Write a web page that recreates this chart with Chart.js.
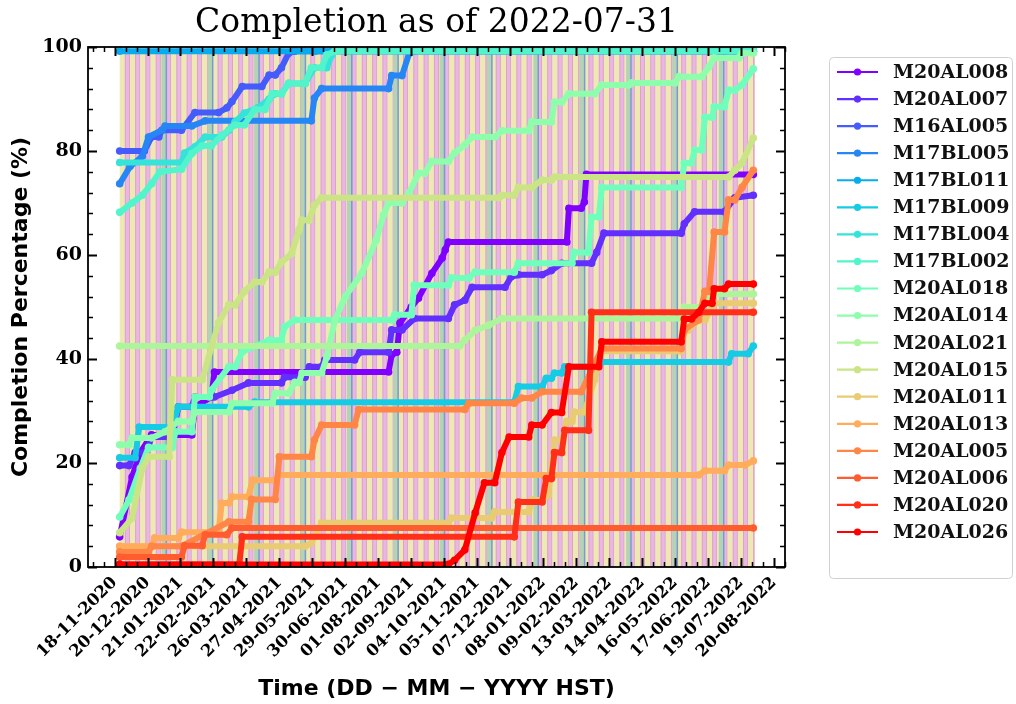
<!DOCTYPE html>
<html>
<head>
<meta charset="utf-8">
<script src="https://cdn.jsdelivr.net/npm/chart.js@4.4.0/dist/chart.umd.min.js"></script>
<style>
  html, body { margin: 0; padding: 0; background: #fff; }
  #wrap { width: 1016px; height: 704px; }
</style>
</head>
<body>
<div id="wrap"><canvas id="chart" width="1016" height="704"></canvas></div>
<script>
// programs, in legend order
const programs = ['M20AL008','M20AL007','M16AL005','M17BL005','M17BL011','M17BL009','M17BL004','M17BL002',
  'M20AL018','M20AL014','M20AL021','M20AL015','M20AL011','M20AL013','M20AL005','M20AL006','M20AL020','M20AL026'];

// matplotlib "rainbow" sampled at 18 steps
const colors = ['#8000ff','#612ffe','#435cfb','#2686f5','#07acee','#16cbe4','#35e4d9','#52f5cb',
  '#70febc','#8efeac','#acf59a','#cae486','#e8cb72','#ffac5c','#ff8646','#ff5c2f','#ff2f18','#ff0000'];

// x tick positions (DD-MM-YYYY labels)
const tickDates = ['2020-11-18','2020-12-20','2021-01-21','2021-02-22','2021-03-26','2021-04-27','2021-05-29',
  '2021-06-30','2021-08-01','2021-09-02','2021-10-04','2021-11-05','2021-12-07','2022-01-08','2022-02-09',
  '2022-03-13','2022-04-14','2022-05-16','2022-06-17','2022-07-19','2022-08-20'];
const tickLabels = ['18-11-2020','20-12-2020','21-01-2021','22-02-2021','26-03-2021','27-04-2021','29-05-2021',
  '30-06-2021','01-08-2021','02-09-2021','04-10-2021','05-11-2021','07-12-2021','08-01-2022','09-02-2022',
  '13-03-2022','14-04-2022','16-05-2022','17-06-2022','19-07-2022','20-08-2022'];

// completion (%) per program: [date, percent]
const m20al008 = [['2020-11-23',5.8],['2020-12-05',17.3],['2020-12-13',22],['2020-12-24',25.4],['2021-02-01',25.4],
  ['2021-02-04',30.8],['2021-02-20',32.7],['2021-02-23',37.5],['2021-08-11',37.5],['2021-08-14',40.8],['2021-08-19',41.3],
  ['2021-08-22',46.9],['2021-09-02',50],['2021-09-09',51.7],['2021-09-22',56.5],['2021-10-02',59.4],['2021-10-05',61],
  ['2021-10-08',62.5],['2022-01-31',62.5],['2022-02-02',69],['2022-02-14',69],['2022-02-17',70.2],['2022-02-19',75.5],
  ['2022-07-31',75.5]];
const m20al007 = [['2020-11-23',19.5],['2020-12-02',19.5],['2020-12-08',22],['2020-12-19',22],['2020-12-24',25],
  ['2021-01-13',25],['2021-01-19',30.8],['2021-02-01',30.8],['2021-02-04',32.7],['2021-02-23',32.7],['2021-03-12',34],
  ['2021-03-28',35.4],['2021-04-29',35.4],['2021-05-02',36.5],['2021-05-22',36.5],['2021-05-26',38.5],['2021-06-07',38.5],
  ['2021-06-10',39.8],['2021-07-09',39.8],['2021-07-14',41.3],['2021-08-11',41.3],['2021-08-14',45.6],['2021-08-24',45.6],
  ['2021-09-05',47.8],['2021-10-08',47.8],['2021-10-14',50.4],['2021-10-24',51.3],['2021-10-31',53.8],['2021-12-02',53.8],
  ['2021-12-08',55.8],['2021-12-15',56.2],['2022-01-07',56.2],['2022-01-16',57],['2022-01-26',58.4],['2022-02-24',58.4],
  ['2022-03-01',60.5],['2022-03-08',64.2],['2022-05-22',64.2],['2022-05-25',66],['2022-06-04',68.3],['2022-07-03',68.3],
  ['2022-07-13',71],['2022-07-31',71.5]];
const m16al005 = [['2020-11-23',80],['2020-12-17',80],['2020-12-24',82.7],['2020-12-31',82.7],['2021-01-03',84],
  ['2021-01-22',84],['2021-02-04',87.4],['2021-02-27',87.4],['2021-03-07',88.3],['2021-03-12',89.5],['2021-03-22',92.4],
  ['2021-04-10',92.4],['2021-04-17',94.6],['2021-04-23',94.6],['2021-04-29',96],['2021-05-06',98.8],['2021-05-12',99.2],
  ['2022-07-31',99.2]];
const m17bl005 = [['2020-11-23',73.7],['2020-12-03',77],['2020-12-15',79],['2020-12-21',82.7],['2021-01-03',84],
  ['2021-01-06',84.8],['2021-02-01',84.8],['2021-02-14',85.8],['2021-05-28',85.8],['2021-05-31',90.2],['2021-06-07',92],
  ['2021-08-11',92],['2021-08-14',94.5],['2021-08-24',94.5],['2021-08-31',98.8],['2021-09-05',99.2],['2022-07-31',99.2]];
const m17bl011 = [['2020-11-23',99.2],['2021-06-01',99.2],['2022-07-31',99.2]];
const m17bl009 = [['2020-11-23',21],['2020-12-08',21],['2020-12-12',26.9],['2021-01-13',26.9],['2021-01-19',30.8],
  ['2021-03-28',30.8],['2021-04-03',31.7],['2021-12-11',31.7],['2021-12-15',34.7],['2022-01-07',34.7],['2022-01-11',36.3],
  ['2022-01-16',36.3],['2022-01-19',37.3],['2022-01-26',37.3],['2022-01-29',38.5],['2022-02-24',38.5],['2022-03-06',39.4],
  ['2022-07-07',39.4],['2022-07-10',41],['2022-07-26',41],['2022-07-31',42.5]];
const m17bl004 = [['2020-11-23',77.8],['2021-01-22',77.8],['2021-01-25',79.6],['2021-02-04',80.8],['2021-02-14',82.7],
  ['2021-03-02',82.7],['2021-03-09',84],['2021-03-15',85.6],['2021-03-24',87.3],['2021-04-06',88.3],['2021-04-17',90],
  ['2021-04-23',91],['2021-04-29',91],['2021-05-06',93],['2021-05-22',93],['2021-05-31',96],['2021-06-12',96],
  ['2021-06-17',98.5],['2021-06-20',99.2],['2022-07-31',99.2]];
const m17bl002 = [['2020-11-23',68.2],['2020-12-05',70],['2020-12-15',71.5],['2020-12-24',73.7],['2021-01-01',76],
  ['2021-01-22',76.5],['2021-02-01',79.5],['2021-02-11',81],['2021-02-20',81],['2021-03-02',83],['2021-03-15',85],
  ['2021-03-24',85],['2021-04-03',88],['2021-04-13',88],['2021-04-20',91],['2021-04-29',91],['2021-05-06',93],
  ['2021-05-22',93],['2021-05-28',96],['2021-06-07',96],['2021-06-12',98.5],['2021-06-20',99.2],['2022-07-31',99.2]];
const m20al018 = [['2020-11-23',9.6],['2020-12-02',12.9],['2020-12-13',19],['2020-12-21',23],['2021-01-13',23],
  ['2021-01-16',26],['2021-02-01',26],['2021-02-04',32.7],['2021-02-18',32.7],['2021-02-20',34],['2021-03-09',38.5],
  ['2021-03-15',38.5],['2021-03-22',41.4],['2021-04-17',43.6],['2021-04-29',43.6],['2021-05-02',46.2],['2021-05-12',47.5],
  ['2021-08-14',47.5],['2021-08-17',48.5],['2021-09-02',48.5],['2021-09-05',54.2],['2021-10-08',54.2],['2021-10-11',55.6],
  ['2021-10-28',55.6],['2021-11-03',56.7],['2021-12-11',56.7],['2021-12-15',58.4],['2022-02-05',58.4],['2022-02-07',60.5],
  ['2022-02-21',60.5],['2022-02-24',67.3],['2022-03-03',67.3],['2022-03-06',73],['2022-05-22',73],['2022-05-25',77.7],
  ['2022-06-01',77.7],['2022-06-04',80.2],['2022-06-11',80.2],['2022-06-14',86.5],['2022-06-21',86.5],['2022-06-23',88.5],
  ['2022-07-03',88.5],['2022-07-07',91.7],['2022-07-13',91.7],['2022-07-20',92.7],['2022-07-31',95.8]];
const m20al014 = [['2020-11-23',23.5],['2020-12-02',23.5],['2020-12-05',24.8],['2020-12-24',24.8],['2021-01-06',26],
  ['2021-01-19',28],['2021-02-01',28],['2021-02-04',29.8],['2021-03-09',29.8],['2021-03-12',31.5],['2021-04-20',31.5],
  ['2021-04-23',33.4],['2021-05-06',33.4],['2021-05-12',35.5],['2021-05-16',35.5],['2021-05-19',37.3],['2021-06-07',37.3],
  ['2021-06-12',40.4],['2021-06-20',47.5],['2021-06-30',52],['2021-07-16',56.5],['2021-07-30',62.9],['2021-08-06',67.7],
  ['2021-08-11',70],['2021-08-24',70],['2021-08-31',72],['2021-09-09',75.7],['2021-09-15',75.7],['2021-09-22',78],
  ['2021-10-08',78],['2021-10-14',79.6],['2021-10-24',81.2],['2021-10-31',82.7],['2021-11-22',82.7],['2021-11-29',83.9],
  ['2021-12-25',83.9],['2021-12-28',85.6],['2022-01-16',85.6],['2022-01-19',89.4],['2022-01-26',89.4],['2022-02-02',91],
  ['2022-02-27',91],['2022-03-06',92.7],['2022-04-01',92.7],['2022-04-04',93.1],['2022-05-16',93.1],['2022-05-20',94.3],
  ['2022-06-11',94.3],['2022-06-18',96.2],['2022-06-23',97.9],['2022-07-17',97.9],['2022-07-20',98.8],['2022-07-31',98.8]];
const m20al021 = [['2020-11-23',42.5],['2021-10-19',42.5],['2021-10-24',43.6],['2021-11-03',45.5],['2021-11-16',46.5],
  ['2021-11-29',47.8],['2022-05-22',47.8],['2022-05-25',50],['2022-06-11',50],['2022-06-18',52.5],['2022-07-31',52.5]];
const m20al015 = [['2020-11-23',6.6],['2020-12-05',9.4],['2020-12-15',19],['2020-12-21',21.2],['2021-01-10',21.2],
  ['2021-01-13',36],['2021-02-11',36],['2021-02-27',47],['2021-03-09',50.4],['2021-03-15',50.4],['2021-03-24',53],
  ['2021-04-03',54.8],['2021-04-10',54.8],['2021-04-17',56.7],['2021-04-23',56.7],['2021-04-29',58.6],['2021-05-09',60.3],
  ['2021-05-16',64.8],['2021-05-19',66.7],['2021-05-26',66.7],['2021-05-31',69.6],['2021-06-07',71],['2021-11-26',71],
  ['2021-11-29',71.5],['2021-12-11',71.5],['2021-12-15',73],['2021-12-28',73],['2022-01-07',74.4],['2022-01-16',74.4],
  ['2022-01-19',75],['2022-07-07',75],['2022-07-13',76.3],['2022-07-20',77.7],['2022-07-31',82.5]];
const m20al011 = [['2020-11-23',4],['2021-05-22',4],['2021-05-28',4.6],['2021-06-07',8.5],['2021-10-08',8.5],
  ['2021-10-11',9.4],['2021-11-19',9.4],['2021-11-22',10.6],['2021-12-25',10.6],['2021-12-28',12.9],['2022-01-07',12.9],
  ['2022-01-13',13.8],['2022-01-19',24.4],['2022-01-26',24.4],['2022-01-31',28],['2022-02-05',28],['2022-02-07',29.8],
  ['2022-02-17',29.8],['2022-02-27',36],['2022-03-06',41.5],['2022-05-22',41.5],['2022-05-25',45.6],['2022-05-29',45.6],
  ['2022-06-08',47.5],['2022-06-14',47.5],['2022-06-23',50.7],['2022-07-31',50.7]];
const m20al013 = [['2020-11-23',4],['2020-12-24',4],['2020-12-27',5.6],['2021-01-19',5.6],['2021-01-22',6.7],
  ['2021-02-27',6.7],['2021-03-02',12.3],['2021-03-09',12.3],['2021-03-12',13.5],['2021-03-28',13.5],['2021-04-01',16.7],
  ['2021-04-23',16.7],['2021-04-27',17.7],['2022-06-08',17.7],['2022-06-14',18.5],['2022-07-03',18.5],['2022-07-07',19.6],
  ['2022-07-23',19.6],['2022-07-31',20.4]];
const m20al005 = [['2020-11-23',2.9],['2020-12-21',2.9],['2020-12-24',4],['2021-01-22',4],['2021-03-09',8.7],
  ['2021-03-28',8.7],['2021-03-31',13],['2021-04-23',13],['2021-04-27',21.2],['2021-05-28',21.2],['2021-05-31',24.4],
  ['2021-06-07',27.3],['2021-07-09',27.3],['2021-07-13',30.3],['2021-10-24',30.3],['2021-10-28',31.5],['2021-12-11',31.5],
  ['2021-12-18',32.5],['2021-12-28',32.5],['2022-01-07',33.7],['2022-02-14',33.7],['2022-03-06',42],['2022-05-22',42],
  ['2022-05-25',45.6],['2022-06-08',47.5],['2022-06-14',53],['2022-06-18',53],['2022-06-23',64.4],['2022-07-03',64.4],
  ['2022-07-07',70.6],['2022-07-13',70.6],['2022-07-20',73],['2022-07-31',76.3]];
const m20al006 = [['2020-11-23',1.9],['2021-01-22',1.9],['2021-01-25',4.1],['2021-02-11',4.1],['2021-02-14',6.2],
  ['2021-03-07',6.2],['2021-03-12',7.5],['2022-07-31',7.5]];
const m20al020 = [['2020-11-23',0.5],['2021-03-19',0.5],['2021-03-22',5.8],['2021-12-11',5.8],['2021-12-15',12.5],
  ['2022-01-07',12.5],['2022-01-11',17],['2022-01-16',17],['2022-01-19',22],['2022-01-26',22],['2022-01-29',26.3],
  ['2022-02-21',26.3],['2022-02-24',49],['2022-07-31',49]];
const m20al026 = [['2020-11-23',0.5],['2021-10-08',0.5],['2021-10-14',1.3],['2021-10-24',3.3],['2021-11-03',10.4],
  ['2021-11-12',16.2],['2021-11-22',16.2],['2021-11-29',22],['2021-12-06',25],['2021-12-25',25],['2021-12-28',27.3],
  ['2022-01-07',27.3],['2022-01-16',29.7],['2022-01-26',29.7],['2022-02-02',38.5],['2022-03-03',38.5],['2022-03-06',43.3],
  ['2022-05-22',43.3],['2022-05-25',47.7],['2022-06-01',47.7],['2022-06-08',49],['2022-06-14',50.7],['2022-06-21',50.7],
  ['2022-06-23',53.5],['2022-07-03',53.5],['2022-07-07',54.4],['2022-07-31',54.4]];

const seriesData = [m20al008, m20al007, m16al005, m17bl005, m17bl011, m17bl009, m17bl004, m17bl002,
  m20al018, m20al014, m20al021, m20al015, m20al011, m20al013, m20al005, m20al006, m20al020, m20al026];

// background schedule bands
const stripeFrom = '2020-11-23', stripeTo = '2022-08-01';
const stripeCycleDays = 10, stripeYellowDays = 5;
const greenBandDates = ['2021-01-05','2021-02-19','2021-04-05','2021-05-20','2021-07-04','2021-08-18','2021-10-02',
  '2021-11-17','2022-01-01','2022-02-15','2022-04-01','2022-05-16','2022-06-30'];

const base = Date.UTC(2020, 10, 18);
function dayOf(s) {
  const [y, m, d] = s.split('-').map(Number);
  return (Date.UTC(y, m - 1, d) - base) / 86400000;
}

const bandPlugin = {
  id: 'bands',
  beforeDatasetsDraw(chart) {
    const { ctx, chartArea: a, scales: { x } } = chart;
    ctx.save();
    ctx.beginPath(); ctx.rect(a.left, a.top, a.right - a.left, a.bottom - a.top); ctx.clip();
    const d0 = dayOf(stripeFrom), d1 = dayOf(stripeTo);
    for (let d = d0; d < d1; d += stripeCycleDays) {
      const p0 = x.getPixelForValue(d);
      const p1 = x.getPixelForValue(Math.min(d + stripeYellowDays, d1));
      const p2 = x.getPixelForValue(Math.min(d + stripeCycleDays, d1));
      ctx.fillStyle = '#eee8b3'; ctx.fillRect(p0, a.top, p1 - p0, a.bottom - a.top);
      ctx.fillStyle = '#e9b6e7'; ctx.fillRect(p1, a.top, p2 - p1, a.bottom - a.top);
      ctx.fillStyle = '#dea4bd';
      ctx.fillRect(p1, a.top, 1, a.bottom - a.top);
      ctx.fillRect(p2 - 1, a.top, 1, a.bottom - a.top);
    }
    greenBandDates.forEach(g => {
      const c = dayOf(g);
      const p0 = x.getPixelForValue(c - 2.5), p1 = x.getPixelForValue(c + 2.5);
      ctx.fillStyle = '#b3d4b4'; ctx.fillRect(p0, a.top, p1 - p0, a.bottom - a.top);
      ctx.fillStyle = '#7a98d6'; ctx.fillRect(p1 - 1, a.top, 1.5, a.bottom - a.top);
    });
    ctx.restore();
  }
};

const framePlugin = {
  id: 'frame',
  afterDatasetsDraw(chart) {
    const { ctx, chartArea: a, scales: { x, y } } = chart;
    ctx.save();
    ctx.strokeStyle = '#000';
    // y ticks, inward on both sides
    for (let v = 0; v <= 100; v += 4) {
      const py = Math.round(y.getPixelForValue(v)) + 0.5;
      const major = v % 20 === 0;
      const len = major ? 9 : 5;
      ctx.lineWidth = major ? 2 : 1.5;
      ctx.beginPath();
      ctx.moveTo(a.left, py); ctx.lineTo(a.left + len, py);
      ctx.moveTo(a.right, py); ctx.lineTo(a.right - len, py);
      ctx.stroke();
    }
    // x ticks, inward on bottom and top
    const first = dayOf(tickDates[0]);
    const step = dayOf(tickDates[1]) - first;
    for (let k = -3; k <= 3 * tickDates.length + 3; k++) {
      const d = first + k * step / 3;
      if (d < x.min || d > x.max) continue;
      const px = Math.round(x.getPixelForValue(d)) + 0.5;
      const major = k % 3 === 0 && k >= 0 && k / 3 < tickDates.length;
      const len = major ? 9 : 5;
      ctx.lineWidth = major ? 2 : 1.5;
      ctx.beginPath();
      ctx.moveTo(px, a.bottom); ctx.lineTo(px, a.bottom - len);
      ctx.moveTo(px, a.top); ctx.lineTo(px, a.top + len);
      ctx.stroke();
    }
    ctx.lineWidth = 1.8;
    ctx.strokeRect(a.left, a.top, a.right - a.left, a.bottom - a.top);
    ctx.restore();
  }
};

const textPlugin = {
  id: 'texts',
  afterDraw(chart) {
    const { ctx, chartArea: a } = chart;
    const cx = (a.left + a.right) / 2;
    ctx.save();
    ctx.fillStyle = '#000';
    ctx.textAlign = 'center'; ctx.textBaseline = 'middle';
    ctx.font = '33px "DejaVu Serif"';
    ctx.fillText('Completion as of 2022-07-31', cx, 23);
    ctx.font = 'bold 22px "DejaVu Sans"';
    ctx.fillText('Time (DD \u2212 MM \u2212 YYYY HST)', cx, 689);
    ctx.save();
    ctx.translate(21, (a.top + a.bottom) / 2);
    ctx.rotate(-Math.PI / 2);
    ctx.fillText('Completion Percentage (%)', 0, 0);
    ctx.restore();

    // legend
    const lx = 829, ly = 57, lw = 183, lh = 521;
    ctx.fillStyle = 'rgba(255,255,255,0.85)';
    ctx.strokeStyle = '#d0d0d0'; ctx.lineWidth = 1;
    ctx.beginPath();
    ctx.roundRect(lx + 0.5, ly + 0.5, lw, lh, 4);
    ctx.fill(); ctx.stroke();
    ctx.textAlign = 'left';
    ctx.font = 'bold 19px "DejaVu Serif"';
    programs.forEach((p, i) => {
      const yy = 72 + i * 27.06;
      ctx.strokeStyle = colors[i]; ctx.lineWidth = 2.2;
      ctx.beginPath(); ctx.moveTo(837, yy); ctx.lineTo(878, yy); ctx.stroke();
      ctx.fillStyle = colors[i];
      ctx.beginPath(); ctx.arc(857.5, yy, 3.6, 0, Math.PI * 2); ctx.fill();
      ctx.fillStyle = '#111';
      ctx.fillText(p, 893, yy + 1);
    });
    ctx.restore();
  }
};

const datasets = programs.map((p, i) => ({
  label: p,
  data: seriesData[i].map(([d, v]) => ({ x: dayOf(d), y: v })),
  borderColor: colors[i],
  backgroundColor: colors[i],
  borderWidth: 6,
  pointRadius: 3.8,
  pointBorderWidth: 0,
  pointHoverRadius: 3.8,
  tension: 0,
  order: programs.length - 1 - i
}));

new Chart(document.getElementById('chart'), {
  type: 'line',
  data: { datasets },
  options: {
    responsive: false,
    animation: false,
    events: [],
    layout: { padding: { top: 47, right: 231, left: 0, bottom: 0 } },
    plugins: { legend: { display: false }, tooltip: { enabled: false }, title: { display: false } },
    scales: {
      x: {
        type: 'linear',
        min: -25.75,
        max: 650.75,
        grid: { display: false, drawTicks: false },
        border: { display: false },
        afterBuildTicks: s => { s.ticks = tickDates.map(d => ({ value: dayOf(d) })); },
        afterFit: s => { s.height = 137; },
        ticks: {
          autoSkip: false,
          minRotation: 45,
          maxRotation: 45,
          padding: 6,
          color: '#000',
          font: { family: 'DejaVu Serif', weight: 'bold', size: 16.5 },
          callback: (v, i) => tickLabels[i]
        }
      },
      y: {
        min: 0,
        max: 100,
        grid: { display: false, drawTicks: false },
        border: { display: false },
        afterFit: s => { s.width = 88; },
        ticks: {
          stepSize: 20,
          padding: 6,
          color: '#000',
          font: { family: 'DejaVu Serif', weight: 'bold', size: 19 }
        }
      }
    }
  },
  plugins: [bandPlugin, framePlugin, textPlugin]
});
</script>
</body>
</html>
